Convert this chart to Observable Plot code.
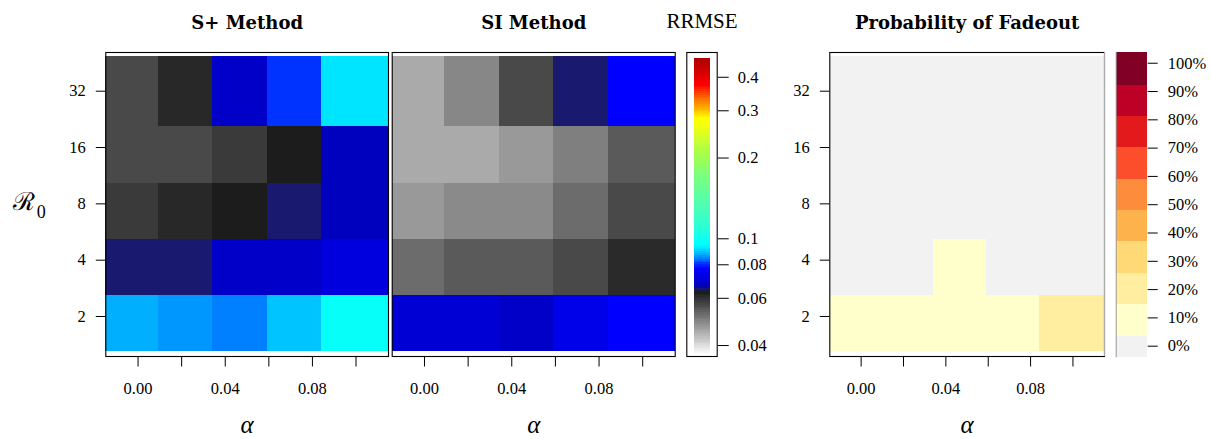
<!DOCTYPE html>
<html><head><meta charset="utf-8">
<script src="https://cdn.jsdelivr.net/npm/d3@7"></script>
<script src="https://cdn.jsdelivr.net/npm/@observablehq/plot@0.6"></script>
<style>
body{margin:0;background:#fff}
#fig{position:relative;width:1211px;height:439px;overflow:hidden;background:#fff}
#fig > svg{position:absolute;top:0;margin:0}
#fig g[aria-label*="tick label"]{font-family:"Liberation Serif",serif;font-size:16.5px}
</style></head><body><div id="fig"></div>
<script>
// ---------------- data ----------------
const alphas = [0, 0.025, 0.05, 0.075, 0.1];           // columns
const r0s = [2, 4, 8, 16, 32];                          // rows
const alphaTicks = [0, 0.02, 0.04, 0.06, 0.08, 0.10];
const alphaLabelTicks = [0, 0.04, 0.08];
const r0Ticks = [2, 4, 8, 16, 32];

// RRMSE, rows R0 = 2,4,8,16,32 ; columns alpha = 0 .. 0.1
const rrmseSPlus = [
  [0.0875, 0.0860, 0.0845, 0.0890, 0.0970],
  [0.0645, 0.0645, 0.0685, 0.0685, 0.0720],
  [0.0585, 0.0610, 0.0627, 0.0645, 0.0670],
  [0.0564, 0.0564, 0.0585, 0.0627, 0.0670],
  [0.0564, 0.0610, 0.0685, 0.0805, 0.0920]
];
const rrmseSI = [
  [0.0705, 0.0705, 0.0685, 0.0735, 0.0770],
  [0.0520, 0.0543, 0.0543, 0.0564, 0.0607],
  [0.0468, 0.0485, 0.0485, 0.0520, 0.0564],
  [0.0450, 0.0450, 0.0468, 0.0497, 0.0543],
  [0.0450, 0.0488, 0.0564, 0.0645, 0.0770]
];
// probability of fadeout
const fadeout = [
  [0.10, 0.09, 0.11, 0.10, 0.18],
  [0.00, 0.00, 0.06, 0.00, 0.00],
  [0.00, 0.00, 0.00, 0.00, 0.00],
  [0.00, 0.00, 0.00, 0.00, 0.00],
  [0.00, 0.00, 0.00, 0.00, 0.00]
];
const rrmseTicks = [0.04, 0.06, 0.08, 0.1, 0.2, 0.3, 0.4];
const fadeTicks = [0, 0.1, 0.2, 0.3, 0.4, 0.5, 0.6, 0.7, 0.8, 0.9, 1.0];

// colour scale definitions
const rrmseStops  = [0.0375, 0.0630, 0.0645, 0.0660, 0.0710, 0.0770, 0.0805, 0.0845, 0.0875, 0.0905, 0.0950,
                     0.112, 0.139, 0.172, 0.210, 0.2325, 0.258, 0.281, 0.296, 0.314, 0.342, 0.373, 0.405, 0.47];
const rrmseColors = ["#F8F8F8", "#1A1A1A", "#191970", "#0000B8", "#0000D8", "#0000FF", "#0033FF", "#0080FF", "#00B0FF", "#00D8FF", "#00FFFF",
                     "#30FFD2", "#55FFA8", "#7CFF7C", "#AAFF44", "#CCFF33", "#EEFF11", "#FFFF00", "#FFCC00", "#FF9900", "#FF5500", "#FF0000", "#DD0000", "#B00000"];
const fadeColors = ["#F2F2F2", "#FFFFCC", "#FFEDA0", "#FED976", "#FEB24C", "#FD8D3C", "#FC4E2A", "#E31A1C", "#BD0026", "#800026"];
const fadeKeyEdges = [-0.041, 0.036, 0.146, 0.257, 0.369, 0.479, 0.588, 0.701, 0.811, 0.921, 1.039];

// ---------------- layout ----------------
const H = 439, MT = 52, MB = 83;
const xDomain = [-0.0148, 0.1149];
const yDomain = [2 ** 0.29, 2 ** 5.687];
const yCellArea = [2 ** 0.378, 2 ** 5.616];
const rasterShift = -0.13;     // cell offset (in cells) seen in the original raster rendering
const serif = "Liberation Serif";
const baseStyle = {background: "transparent", overflow: "visible", fontFamily: serif, fontSize: "16.5px", color: "black"};

const rrmseColor = {type: "log", domain: rrmseStops, range: rrmseColors, interpolate: "rgb"};
const fadeColor = {type: "threshold", domain: fadeKeyEdges.slice(1, -1), range: fadeColors};

const fig = document.getElementById("fig");
function place(svg, left) { svg.style.left = left + "px"; fig.appendChild(svg); }

function cells(values) {
  const step = alphas[1] - alphas[0];
  const out = [];
  values.forEach((row, i) => row.forEach((v, j) => {
    const a = alphas[j], r = r0s[i];
    out.push({
      v,
      x1: j === 0 ? xDomain[0] : a - step / 2 + rasterShift * step,
      x2: j === alphas.length - 1 ? xDomain[1] : a + step / 2 + rasterShift * step,
      y1: i === 0 ? yCellArea[0] : r * 2 ** (-0.5 + rasterShift),
      y2: i === r0s.length - 1 ? yCellArea[1] : r * 2 ** (0.5 + rasterShift)
    });
  }));
  return out;
}

function panel({values, color, width, marginLeft, marginRight, yAxis, title, rLabel, greyRight}) {
  const marks = [
    Plot.rect(cells(values), {x1: "x1", x2: "x2", y1: "y1", y2: "y2", fill: "v", shapeRendering: "crispEdges"}),
    Plot.frame({stroke: "black", strokeWidth: 1.1}),
    Plot.axisX(alphaTicks, {tickSize: 10.5, tickFormat: () => "", label: null}),
    Plot.axisX(alphaLabelTicks, {tickSize: 0, tickPadding: 25.6, tickFormat: d3.format(".2f"), label: null}),
    Plot.text([title], {frameAnchor: "top", lineAnchor: "bottom", dy: -24, fontFamily: "DejaVu Serif", fontWeight: "bold", fontSize: 18, fill: "black"}),
    Plot.text(["\u03b1"], {frameAnchor: "bottom", lineAnchor: "bottom", dy: 76.5, fontFamily: serif, fontStyle: "italic", fontSize: 25, fill: "black"})
  ];
  if (greyRight) marks.push(Plot.ruleX([xDomain[1]], {stroke: "#aaa", strokeWidth: 1.1}));
  if (yAxis) marks.push(Plot.axisY(r0Ticks, {anchor: "left", tickSize: 9.5, tickPadding: 10.5, tickFormat: d => String(d), label: null}));
  if (rLabel) {
    marks.push(Plot.text(["\u211b"], {frameAnchor: "left", textAnchor: "start", lineAnchor: "middle", dx: -93, dy: -3, fontFamily: "DejaVu Serif", fontSize: 25, fill: "black"}));
    marks.push(Plot.text(["0"], {frameAnchor: "left", textAnchor: "start", lineAnchor: "bottom", dx: -69, dy: 13, fontFamily: serif, fontSize: 18, fill: "black"}));
  }
  return Plot.plot({
    width, height: H, marginTop: MT, marginBottom: MB, marginLeft, marginRight,
    style: baseStyle,
    x: {domain: xDomain, label: null},
    y: {type: "log", base: 2, domain: yDomain, label: null, axis: yAxis ? undefined : null},
    color,
    marks
  });
}

// S+ method
place(panel({values: rrmseSPlus, color: rrmseColor, width: 390, marginLeft: 105.3, marginRight: 2, yAxis: true, title: "S+ Method", rLabel: true}), 0);
// SI method
place(panel({values: rrmseSI, color: rrmseColor, width: 290, marginLeft: 1.7, marginRight: 5.3, yAxis: false, title: "SI Method"}), 390);

// RRMSE colour bar
{
  const lo = 0.0375, hi = 0.47, N = 160;
  const slices = d3.range(N).map(k => ({lo: lo * (hi / lo) ** (k / N), hi: lo * (hi / lo) ** ((k + 1) / N)}));
  const bar = Plot.plot({
    width: 130, height: H, marginTop: MT, marginBottom: MB, marginLeft: 6.3, marginRight: 93.3,
    style: baseStyle,
    x: {domain: [0, 1], axis: null},
    y: {type: "log", domain: [0.03641, 0.4948], label: null},
    color: rrmseColor,
    marks: [
      Plot.rect(slices, {y1: "lo", y2: "hi", fill: d => Math.sqrt(d.lo * d.hi), insetLeft: 7.7, insetRight: 6.7, shapeRendering: "crispEdges"}),
      Plot.frame({stroke: "black", strokeWidth: 1.1}),
      Plot.axisY(rrmseTicks, {anchor: "right", tickSize: 11, tickPadding: 9.6, tickFormat: d => String(d), label: null}),
      Plot.text(["RRMSE"], {frameAnchor: "top", lineAnchor: "bottom", dy: -24.7, fontFamily: serif, fontSize: 21, fill: "black"})
    ]
  });
  place(bar, 680);
}

// Probability of fadeout
place(panel({values: fadeout, color: fadeColor, width: 340, marginLeft: 59.3, marginRight: 6, yAxis: true, title: "Probability of Fadeout", greyRight: true}), 770);

// fadeout key
{
  const bins = d3.range(fadeKeyEdges.length - 1).map(k => ({lo: fadeKeyEdges[k], hi: fadeKeyEdges[k + 1]}));
  const key = Plot.plot({
    width: 101, height: H, marginTop: 51.7, marginBottom: 81.7, marginLeft: 5.7, marginRight: 64.3,
    style: baseStyle,
    x: {domain: [0, 1], axis: null},
    y: {domain: [fadeKeyEdges[0], fadeKeyEdges[fadeKeyEdges.length - 1]], label: null},
    color: fadeColor,
    marks: [
      Plot.rect(bins, {y1: "lo", y2: "hi", fill: d => (d.lo + d.hi) / 2, shapeRendering: "crispEdges"}),
      Plot.ruleX([0], {stroke: "#999"}),
      Plot.axisY(fadeTicks, {anchor: "right", tickSize: 10, tickPadding: 10.6, tickFormat: d3.format(".0%"), label: null})
    ]
  });
  place(key, 1110);
}
</script></body></html>
